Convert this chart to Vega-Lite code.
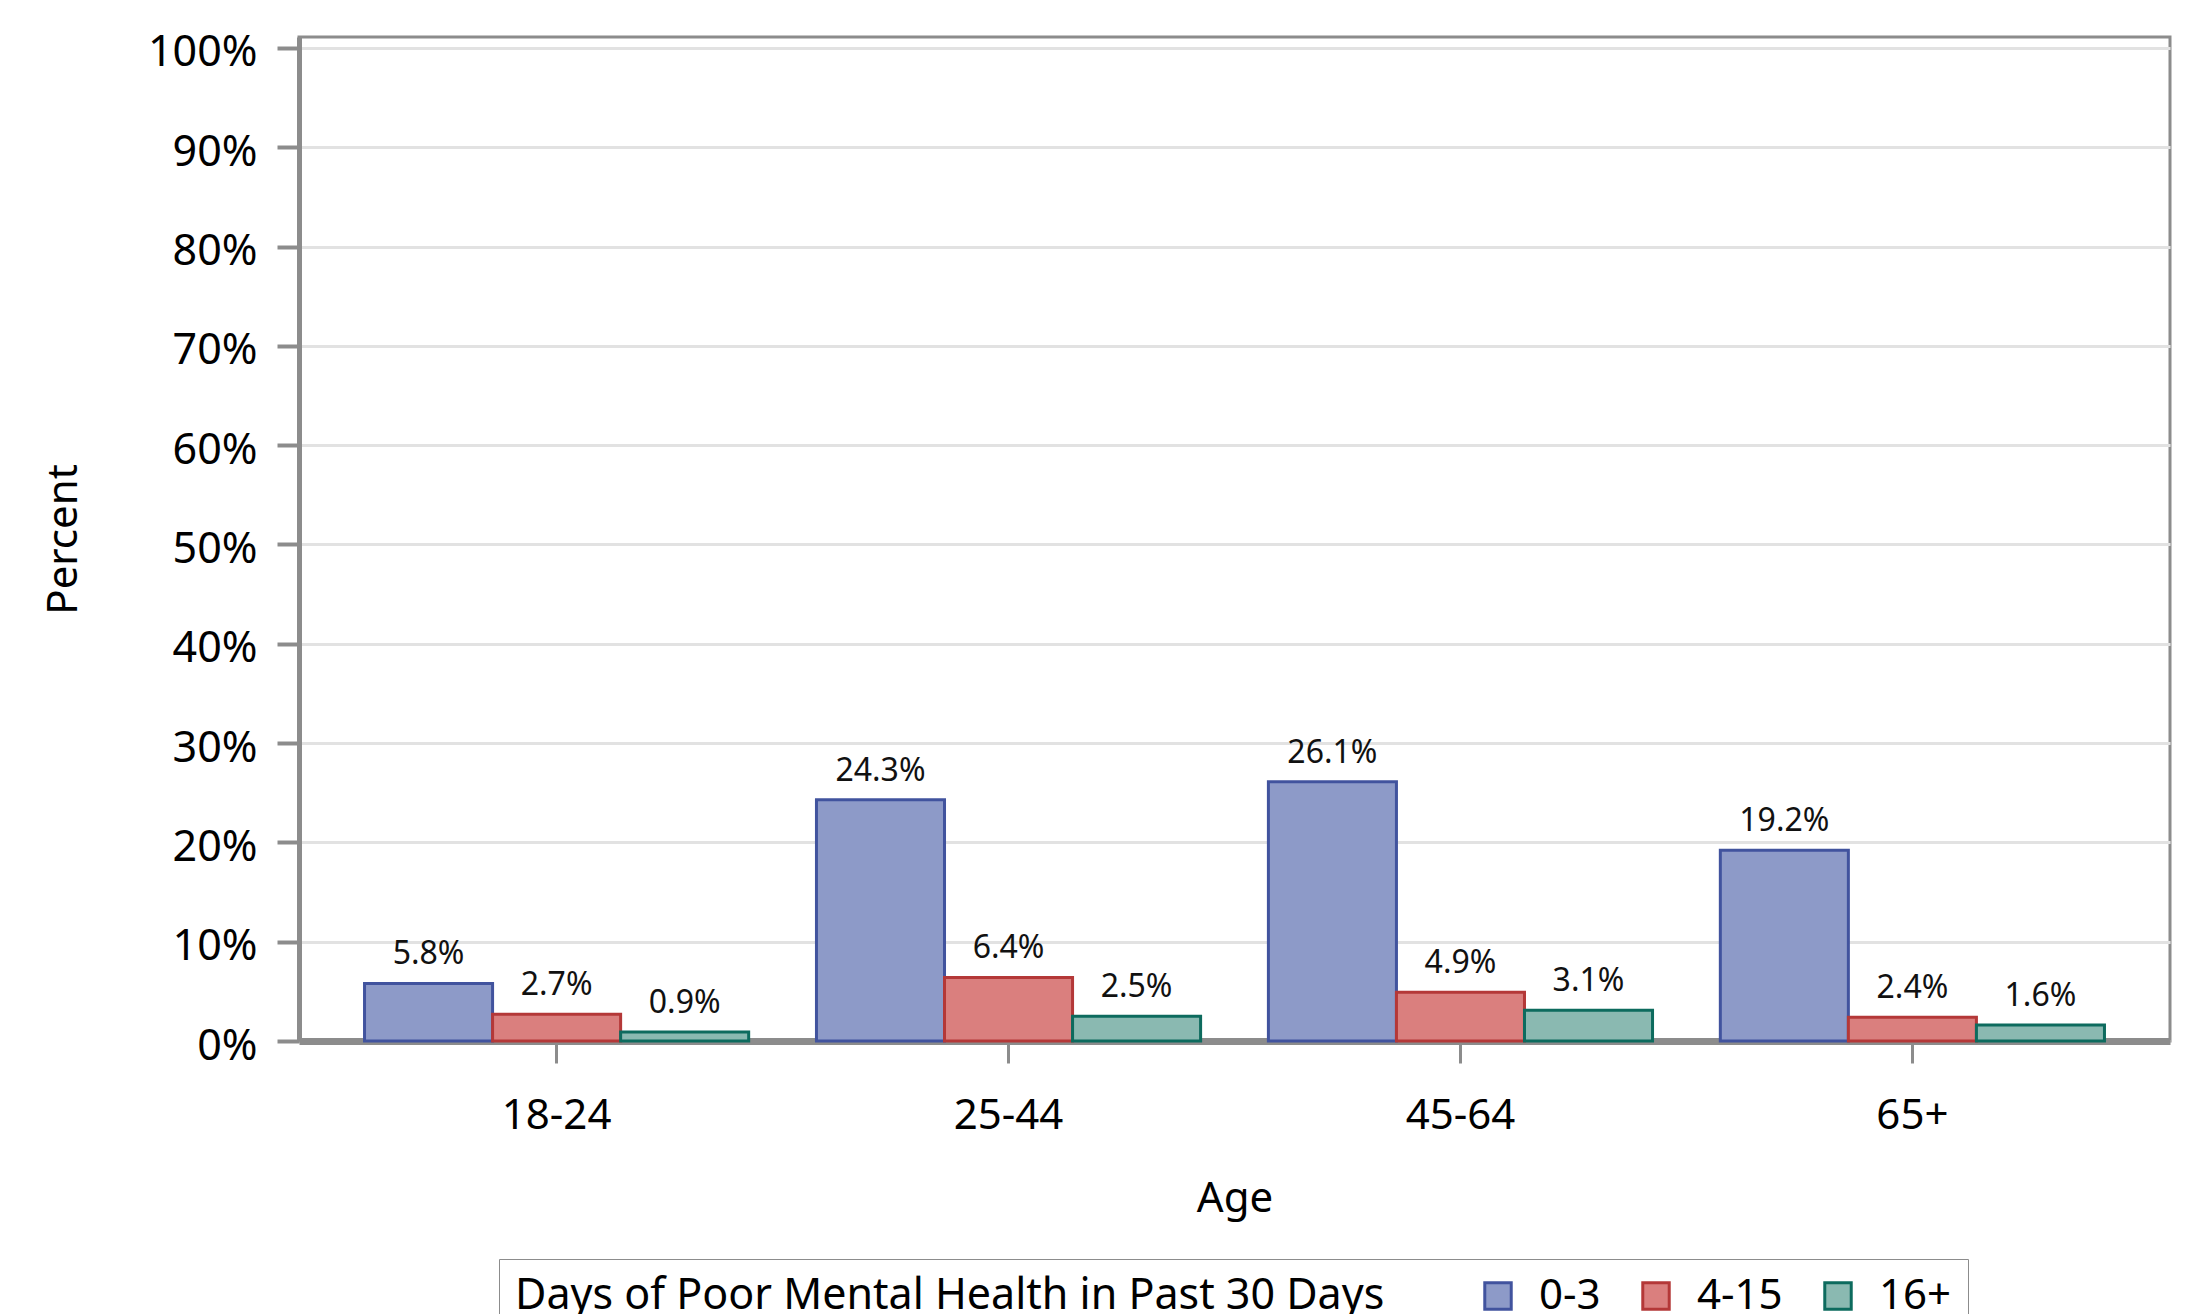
{
  "$schema": "https://vega.github.io/schema/vega-lite/v6.json",
  "autosize": "none",
  "width": 1871,
  "height": 1004,
  "padding": {"left": 299, "top": 37, "right": 21, "bottom": 273},
  "background": "white",
  "config": {
    "font": "Noto Sans",
    "view": {"stroke": "#8C8C8C", "strokeWidth": 3},
    "axis": {"labelColor": "#000", "titleColor": "#000", "titleFontWeight": "normal"}
  },
  "data": {
    "values": [
      {"age": "18-24", "days": "0-3", "pct": 0.058},
      {"age": "18-24", "days": "4-15", "pct": 0.027},
      {"age": "18-24", "days": "16+", "pct": 0.009},
      {"age": "25-44", "days": "0-3", "pct": 0.243},
      {"age": "25-44", "days": "4-15", "pct": 0.064},
      {"age": "25-44", "days": "16+", "pct": 0.025},
      {"age": "45-64", "days": "0-3", "pct": 0.261},
      {"age": "45-64", "days": "4-15", "pct": 0.049},
      {"age": "45-64", "days": "16+", "pct": 0.031},
      {"age": "65+", "days": "0-3", "pct": 0.192},
      {"age": "65+", "days": "4-15", "pct": 0.024},
      {"age": "65+", "days": "16+", "pct": 0.016}
    ]
  },
  "encoding": {
    "x": {
      "field": "age", "type": "nominal", "sort": ["18-24", "25-44", "45-64", "65+"],
      "scale": {"paddingInner": 0.15, "paddingOuter": 0.145},
      "axis": {
        "title": "Age", "labelAngle": 0, "labelFontSize": 42, "titleFontSize": 42,
        "domainColor": "#8C8C8C", "domainWidth": 7, "tickColor": "#8C8C8C", "tickWidth": 3, "tickSize": 22,
        "labelPadding": 32, "titlePadding": 42
      }
    },
    "xOffset": {"field": "days", "type": "nominal", "sort": ["0-3", "4-15", "16+"], "scale": {"paddingInner": 0, "paddingOuter": 0}},
    "y": {
      "field": "pct", "type": "quantitative",
      "scale": {"domain": [0, 1.011], "nice": false},
      "axis": {
        "title": "Percent", "format": ".0%", "values": [0, 0.1, 0.2, 0.3, 0.4, 0.5, 0.6, 0.7, 0.8, 0.9, 1.0],
        "labelFontSize": 43, "titleFontSize": 42, "labelOffset": 5,
        "domainColor": "#8C8C8C", "domainWidth": 5, "tickColor": "#8C8C8C", "tickWidth": 4, "tickSize": 22,
        "gridColor": "#E2E2E2", "gridWidth": 3, "labelPadding": 20, "titlePadding": 62
      }
    }
  },
  "layer": [
    {
      "mark": {"type": "bar", "strokeWidth": 3},
      "encoding": {
        "fill": {
          "field": "days", "type": "nominal", "sort": ["0-3", "4-15", "16+"],
          "scale": {"domain": ["0-3", "4-15", "16+"], "range": ["#8D9AC8", "#DA7F7E", "#8AB9B1"]},
          "legend": {
            "title": "Days of Poor Mental Health in Past 30 Days",
            "orient": "none", "legendX": 200, "legendY": 1222,
            "direction": "horizontal", "titleOrient": "left", "titleLimit": 1400,
            "titleFontSize": 43, "titleFontWeight": "normal", "titleColor": "#000", "titlePadding": 92,
            "labelFontSize": 42, "labelColor": "#000", "labelOffset": 20,
            "symbolType": "square", "symbolSize": 700, "symbolStrokeWidth": 3,
            "columnPadding": 34, "padding": 16,
            "strokeColor": "#8C8C8C"
          }
        },
        "stroke": {
          "field": "days", "type": "nominal", "sort": ["0-3", "4-15", "16+"],
          "scale": {"domain": ["0-3", "4-15", "16+"], "range": ["#41539E", "#B43838", "#0D6B5E"]},
          "legend": {
            "title": "Days of Poor Mental Health in Past 30 Days"
          }
        }
      }
    },
    {
      "mark": {"type": "text", "baseline": "bottom", "dy": -12, "fontSize": 32, "color": "#111"},
      "encoding": {
        "text": {"field": "pct", "type": "quantitative", "format": ".1%"}
      }
    }
  ]
}
